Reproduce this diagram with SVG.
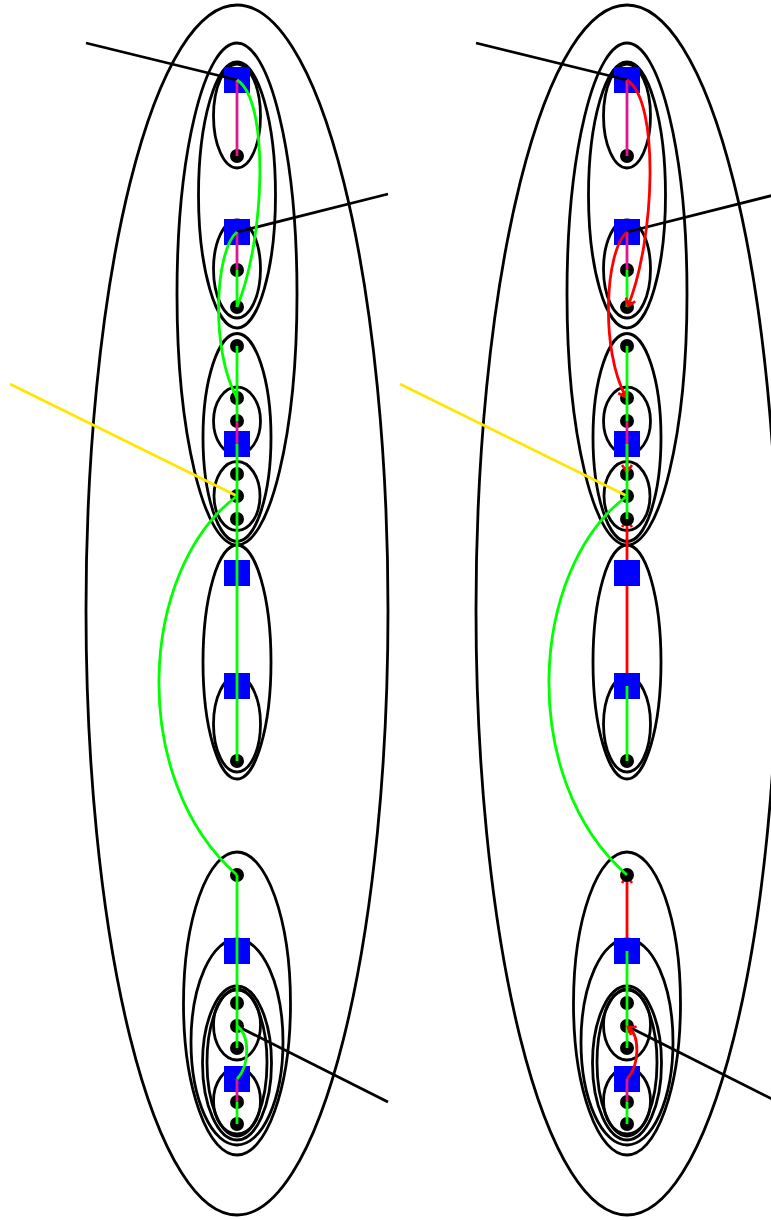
<svg xmlns="http://www.w3.org/2000/svg" width="771" height="1220" viewBox="0 0 771 1220">
<style>
.el{fill:none;stroke:#000;stroke-width:2.8}
.sq{fill:#0000ff}
.dot{fill:#000}
.e{fill:none;stroke-width:2.8;stroke-linecap:butt}
.k{stroke:#000}
.y{stroke:#ffe600}
.g{stroke:#00ff00}
.p{stroke:#e0168c}
.r{stroke:#ff0000}
</style>
<defs>
<marker id="arr" viewBox="0 0 10 10" refX="9" refY="5" markerWidth="10" markerHeight="10" orient="auto" markerUnits="userSpaceOnUse" overflow="visible">
<path d="M2,0 L9,5 L2,10" fill="none" stroke="#ff0000" stroke-width="2.6"/>
</marker>
</defs>
<rect width="771" height="1220" fill="#fff"/>

<!-- LEFT COLUMN -->
<g id="left-clusters">
<ellipse class="el" cx="237" cy="610" rx="151" ry="605"/>
<ellipse class="el" cx="237" cy="294" rx="60" ry="251"/>
<ellipse class="el" cx="237" cy="195" rx="38.5" ry="133"/>
<ellipse class="el" cx="237" cy="116" rx="23.5" ry="52"/>
<ellipse class="el" cx="237" cy="269" rx="23.5" ry="49"/>
<ellipse class="el" cx="237" cy="437.5" rx="34" ry="104"/>
<ellipse class="el" cx="237" cy="421" rx="23.5" ry="34"/>
<ellipse class="el" cx="237" cy="496" rx="23" ry="34.5"/>
<ellipse class="el" cx="237" cy="662" rx="34" ry="117"/>
<ellipse class="el" cx="237" cy="724" rx="23.5" ry="48"/>
<ellipse class="el" cx="237" cy="1003.5" rx="53.5" ry="151.5"/>
<ellipse class="el" cx="237" cy="1042" rx="46" ry="103"/>
<ellipse class="el" cx="237" cy="1063" rx="34.5" ry="77"/>
<ellipse class="el" cx="237" cy="1062.5" rx="30" ry="73.5"/>
<ellipse class="el" cx="237" cy="1025" rx="23.5" ry="35"/>
<ellipse class="el" cx="237" cy="1101" rx="23.5" ry="33"/>
</g>
<g id="L-S1"><rect class="sq" x="224" y="67" width="26" height="26"/></g>
<g id="L-D1"><circle class="dot" cx="237" cy="156" r="7"/></g>
<g id="L-S2"><rect class="sq" x="224" y="219" width="26" height="26"/></g>
<g id="L-D2"><circle class="dot" cx="237" cy="270" r="7"/></g>
<g id="L-D3"><circle class="dot" cx="237" cy="307" r="7"/></g>
<g id="L-D4"><circle class="dot" cx="237" cy="346" r="7"/></g>
<g id="L-D5"><circle class="dot" cx="237" cy="398" r="7"/></g>
<g id="L-D6"><circle class="dot" cx="237" cy="421" r="7"/></g>
<g id="L-S3"><rect class="sq" x="224" y="431" width="26" height="26"/></g>
<g id="L-D7"><circle class="dot" cx="237" cy="474" r="7"/></g>
<g id="L-D8"><circle class="dot" cx="237" cy="496" r="7"/></g>
<g id="L-D9"><circle class="dot" cx="237" cy="519" r="7"/></g>
<g id="L-S4"><rect class="sq" x="224" y="560" width="26" height="26"/></g>
<g id="L-S5"><rect class="sq" x="224" y="673" width="26" height="26"/></g>
<g id="L-D10"><circle class="dot" cx="237" cy="761" r="7"/></g>
<g id="L-D11"><circle class="dot" cx="237" cy="875" r="7"/></g>
<g id="L-S6"><rect class="sq" x="224" y="938" width="26" height="26"/></g>
<g id="L-D12"><circle class="dot" cx="237" cy="1003" r="7"/></g>
<g id="L-D13"><circle class="dot" cx="237" cy="1026" r="7"/></g>
<g id="L-D14"><circle class="dot" cx="237" cy="1048" r="7"/></g>
<g id="L-S7"><rect class="sq" x="224" y="1066" width="26" height="26"/></g>
<g id="L-D15"><circle class="dot" cx="237" cy="1102" r="7"/></g>
<g id="L-D16"><circle class="dot" cx="237" cy="1124" r="7"/></g>

<g id="left-connectors">
<path class="e k" d="M86,43 L237,80"/>
<path class="e k" d="M388,194 L237,232"/>
<path class="e k" d="M388,1102 L237,1026"/>
<path class="e y" d="M10,384 L237,496"/>
<path class="e p" d="M237,80 V156"/>
<path class="e p" d="M237,232 V270"/>
<path class="e g" d="M237,270 V307"/>
<path class="e g" d="M237,80 C270,100 265,240 237,307"/>
<path class="e g" d="M237,232 C215,250 210,350 237,398"/>
<path class="e g" d="M237,346 V421"/>
<path class="e p" d="M237,421 V444"/>
<path class="e g" d="M237,444 V761"/>
<path class="e g" d="M237,496 C138,570 128,780 237,875"/>
<path class="e g" d="M237,875 V1048"/>
<path class="e g" d="M237,1026 C250,1035 250,1065 237,1079"/>
<path class="e p" d="M237,1079 V1102"/>
<path class="e g" d="M237,1102 V1124"/>
</g>

<!-- RIGHT COLUMN -->
<g id="right-clusters">
<ellipse class="el" cx="627" cy="610" rx="151" ry="605"/>
<ellipse class="el" cx="627" cy="294" rx="60" ry="251"/>
<ellipse class="el" cx="627" cy="195" rx="38.5" ry="133"/>
<ellipse class="el" cx="627" cy="116" rx="23.5" ry="52"/>
<ellipse class="el" cx="627" cy="269" rx="23.5" ry="49"/>
<ellipse class="el" cx="627" cy="437.5" rx="34" ry="104"/>
<ellipse class="el" cx="627" cy="421" rx="23.5" ry="34"/>
<ellipse class="el" cx="627" cy="496" rx="23" ry="34.5"/>
<ellipse class="el" cx="627" cy="662" rx="34" ry="117"/>
<ellipse class="el" cx="627" cy="724" rx="23.5" ry="48"/>
<ellipse class="el" cx="627" cy="1003.5" rx="53.5" ry="151.5"/>
<ellipse class="el" cx="627" cy="1042" rx="46" ry="103"/>
<ellipse class="el" cx="627" cy="1063" rx="34.5" ry="77"/>
<ellipse class="el" cx="627" cy="1062.5" rx="30" ry="73.5"/>
<ellipse class="el" cx="627" cy="1025" rx="23.5" ry="35"/>
<ellipse class="el" cx="627" cy="1101" rx="23.5" ry="33"/>
</g>
<g id="right-connectors-under">
<path class="e r" d="M627,686 V520" marker-end="url(#arr)"/>
<path class="e r" d="M627,951 V876" marker-end="url(#arr)"/>
</g>
<g id="R-S1"><rect class="sq" x="614" y="67" width="26" height="26"/></g>
<g id="R-D1"><circle class="dot" cx="627" cy="156" r="7"/></g>
<g id="R-S2"><rect class="sq" x="614" y="219" width="26" height="26"/></g>
<g id="R-D2"><circle class="dot" cx="627" cy="270" r="7"/></g>
<g id="R-D3"><circle class="dot" cx="627" cy="307" r="7"/></g>
<g id="R-D4"><circle class="dot" cx="627" cy="346" r="7"/></g>
<g id="R-D5"><circle class="dot" cx="627" cy="398" r="7"/></g>
<g id="R-D6"><circle class="dot" cx="627" cy="421" r="7"/></g>
<g id="R-S3"><rect class="sq" x="614" y="431" width="26" height="26"/></g>
<g id="R-D7"><circle class="dot" cx="627" cy="474" r="7"/></g>
<g id="R-D8"><circle class="dot" cx="627" cy="496" r="7"/></g>
<g id="R-D9"><circle class="dot" cx="627" cy="519" r="7"/></g>
<g id="R-S4"><rect class="sq" x="614" y="560" width="26" height="26"/></g>
<g id="R-S5"><rect class="sq" x="614" y="673" width="26" height="26"/></g>
<g id="R-D10"><circle class="dot" cx="627" cy="761" r="7"/></g>
<g id="R-D11"><circle class="dot" cx="627" cy="875" r="7"/></g>
<g id="R-S6"><rect class="sq" x="614" y="938" width="26" height="26"/></g>
<g id="R-D12"><circle class="dot" cx="627" cy="1003" r="7"/></g>
<g id="R-D13"><circle class="dot" cx="627" cy="1026" r="7"/></g>
<g id="R-D14"><circle class="dot" cx="627" cy="1048" r="7"/></g>
<g id="R-S7"><rect class="sq" x="614" y="1066" width="26" height="26"/></g>
<g id="R-D15"><circle class="dot" cx="627" cy="1102" r="7"/></g>
<g id="R-D16"><circle class="dot" cx="627" cy="1124" r="7"/></g>

<g id="right-connectors">
<path class="e k" d="M476,43 L627,80"/>
<path class="e k" d="M778,194 L627,232"/>
<path class="e k" d="M778,1102 L627,1026"/>
<path class="e y" d="M400,384 L627,496"/>
<path class="e p" d="M627,80 V156"/>
<path class="e p" d="M627,232 V270"/>
<path class="e g" d="M627,270 V307"/>
<path class="e r" d="M627,80 C660,100 655,240 628,306" marker-end="url(#arr)"/>
<path class="e r" d="M627,232 C605,250 600,350 626,397" marker-end="url(#arr)"/>
<path class="e g" d="M627,346 V421"/>
<path class="e p" d="M627,421 V444"/>
<path class="e r" d="M627,444 V472" marker-end="url(#arr)"/>
<path class="e g" d="M627,444 V519"/>
<path class="e g" d="M627,686 V761"/>
<path class="e g" d="M627,496 C528,570 518,780 627,875"/>
<path class="e g" d="M627,951 V1048"/>
<path class="e r" d="M627,1079 C640,1065 640,1035 628,1027" marker-end="url(#arr)"/>
<path class="e p" d="M627,1079 V1102"/>
<path class="e g" d="M627,1102 V1124"/>
</g>
</svg>
